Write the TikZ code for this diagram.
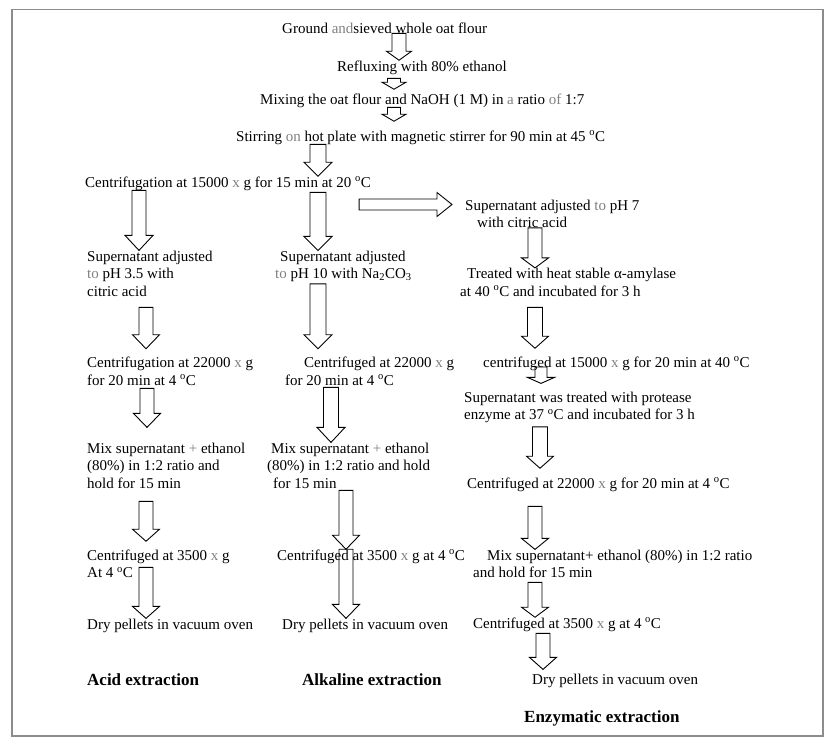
\documentclass[tikz,border=0pt]{standalone}
\usepackage{fontspec}
\setmainfont{Liberation Serif}
\usetikzlibrary{calc}
\definecolor{wordgray}{gray}{0.5}
\definecolor{framegray}{gray}{0.55}
\newcommand{\gw}[1]{\textcolor{wordgray}{#1}}
\newcommand{\degc}{\textsuperscript{o}C}
\tikzset{
    txt/.style={anchor=base west, inner sep=0pt, align=left},
    title/.style={txt, font=\fontsize{17}{20}\selectfont\bfseries},
    arrshaft/.store in=\arrshaft, arrhead/.store in=\arrhead, arrlen/.store in=\arrlen,
    arrshaft=7pt, arrhead=13.5pt, arrlen=13pt,
    flowdown/.style={draw, line width=0.9pt, line join=miter, to path={
        let \p1=(\tikztostart), \p2=(\tikztotarget) in
        (\x1-\arrshaft,\y1) -- (\x1-\arrshaft,\y2+\arrlen) -- (\x1-\arrhead,\y2+\arrlen) -- (\x1,\y2)
        -- (\x1+\arrhead,\y2+\arrlen) -- (\x1+\arrshaft,\y2+\arrlen) -- (\x1+\arrshaft,\y1) -- cycle}},
    flowright/.style={draw, line width=0.9pt, line join=miter, to path={
        let \p1=(\tikztostart), \p2=(\tikztotarget) in
        (\x1,\y1+\arrshaft) -- (\x2-\arrlen,\y1+\arrshaft) -- (\x2-\arrlen,\y1+\arrhead) -- (\x2,\y1)
        -- (\x2-\arrlen,\y1-\arrhead) -- (\x2-\arrlen,\y1-\arrshaft) -- (\x1,\y1-\arrshaft) -- cycle}}
}
\begin{document}
\begin{tikzpicture}[x=1pt, y=-1pt, font=\fontsize{15}{17.5}\selectfont]
            \useasboundingbox (0,0) rectangle (836,748);
            \draw[framegray, line width=1.3pt] (12,9.5) rectangle (823,736);

            \node[txt] (ground)   at (282,33)  {Ground \gw{and}sieved whole oat flour};
            \node[txt] (reflux)   at (337,71)  {Refluxing with 80\% ethanol};
            \node[txt] (mixing)   at (260,104) {Mixing the oat flour and NaOH (1 M) in \gw{a} ratio \gw{of} 1:7};
            \node[txt] (stirring) at (236,141) {Stirring \gw{on} hot plate with magnetic stirrer for 90 min at 45 \degc};
            \node[txt] (cent)     at (85,187)  {Centrifugation at 15000 \gw{x} g for 15 min at 20 \degc};
            \node[txt] (ph7)      at (465,227.5) {Supernatant adjusted \gw{to} pH 7\\\hspace*{12pt}with citric acid};

            \node[txt] (acidA) at (87,296)  {Supernatant adjusted\\\gw{to} pH 3.5 with\\citric acid};
            \node[txt] (acidB) at (87,385)  {Centrifugation at 22000 \gw{x} g\\for 20 min at 4 \degc};
            \node[txt] (acidC) at (87,488)  {Mix supernatant \gw{+} ethanol\\(80\%) in 1:2 ratio and\\hold for 15 min};
            \node[txt] (acidD) at (87,577.5)  {Centrifuged at 3500 \gw{x} g\\At 4 \degc};
            \node[txt] (acidE) at (87,629)  {Dry pellets in vacuum oven};

            \node[txt] (alkA) at (275,278.5) {\hspace*{5pt}Supernatant adjusted\\\gw{to} pH 10 with Na\textsubscript{2}CO\textsubscript{3}};
            \node[txt] (alkB) at (285,385) {\hspace*{19pt}Centrifuged at 22000 \gw{x} g\\for 20 min at 4 \degc};
            \node[txt] (alkC) at (267,488) {\hspace*{4pt}Mix supernatant \gw{+} ethanol\\(80\%) in 1:2 ratio and hold\\\hspace*{6pt}for 15 min};
            \node[txt] (alkD) at (277,560) {Centrifuged at 3500 \gw{x} g at 4 \degc};
            \node[txt] (alkE) at (282,629) {Dry pellets in vacuum oven};

            \node[txt] (enzA) at (460,296) {\hspace*{7pt}Treated with heat stable α-amylase\\at 40 \degc{} and incubated for 3 h};
            \node[txt] (enzB) at (483,367) {centrifuged at 15000 \gw{x} g for 20 min at 40 \degc};
            \node[txt] (enzC) at (464,419.5) {Supernatant was treated with protease\\enzyme at 37 \degc{} and incubated for 3 h};
            \node[txt] (enzD) at (467,488) {Centrifuged at 22000 \gw{x} g for 20 min at 4 \degc};
            \node[txt] (enzE) at (473,577.5) {\hspace*{14pt}Mix supernatant+ ethanol (80\%) in 1:2 ratio\\and hold for 15 min};
            \node[txt] (enzF) at (473,628) {Centrifuged at 3500 \gw{x} g at 4 \degc};
            \node[txt] (enzG) at (532,684) {Dry pellets in vacuum oven};

            \node[title] (acidlab) at (87,685)  {Acid extraction};
            \node[title] (alklab)  at (302,685) {Alkaline extraction};
            \node[title] (enzlab)  at (524,722) {Enzymatic extraction};

            \draw[flowdown, arrshaft=7pt, arrhead=12.5pt, arrlen=9pt]
                (ground.south -| 399,0) to (reflux.north -| 399,0);
            \draw[flowdown, arrshaft=6.5pt, arrhead=12pt, arrlen=7pt]
                ([yshift=-4pt]reflux.south -| 394,0) to ([yshift=4pt]mixing.north -| 394,0);
            \draw[flowdown, arrshaft=6.5pt, arrhead=12pt, arrlen=7pt]
                (mixing.south -| 394,0) to ([yshift=9pt]stirring.north -| 394,0);
            \draw[flowdown, arrshaft=8pt, arrhead=14pt, arrlen=14pt]
                (stirring.south -| 318,0) to (cent.north -| 318,0);

            \draw[flowdown, arrlen=15pt, arrhead=14pt] (cent.south -| 139,0) to (acidA.north -| 139,0);
            \draw[flowdown, arrshaft=8pt, arrhead=14pt, arrlen=14pt]
                ([yshift=-2pt]cent.south -| 318,0) to (alkA.north -| 318,0);
            \draw[flowright, arrshaft=5.5pt, arrhead=12pt, arrlen=15pt]
                ([xshift=-12pt,yshift=-17.5pt]cent.base east) to ([xshift=-13pt]ph7.base west);
            \draw[flowdown, arrlen=10pt] (ph7.south -| 535,0) to (enzA.north -| 535,0);

            \draw[flowdown, arrlen=14pt] ([yshift=-11pt]acidA.south -| 146,0) to ([yshift=8pt]acidB.north -| 146,0);
            \draw[flowdown, arrlen=14pt] ([yshift=-3pt]acidB.south -| 147,0) to ([yshift=15pt]acidC.north -| 147,0);
            \draw[flowdown, arrlen=12pt] ([yshift=-13pt]acidC.south -| 146,0) to ([yshift=8pt]acidD.north -| 146,0);
            \draw[flowdown, arrlen=12pt] ([yshift=10.5pt]acidD.south -| 146,0) to (acidE.north -| 146,0);

            \draw[flowdown, arrshaft=8pt, arrhead=14pt, arrlen=14pt]
                ([yshift=-2pt]alkA.south -| 318,0) to ([yshift=8pt]alkB.north -| 318,0);
            \draw[flowdown, arrshaft=7.5pt, arrhead=14pt, arrlen=15pt]
                ([yshift=-2pt]alkB.south -| 331,0) to (alkC.north -| 331,0);
            \draw[flowdown, arrlen=14pt] ([yshift=-2pt]alkC.south -| 346,0) to (alkD.north -| 346,0);
            \draw[flowdown, arrlen=14pt] (alkD.north -| 346,0) to (alkE.north -| 346,0);

            \draw[flowdown, arrshaft=7.5pt, arrlen=12pt]
                ([yshift=-11pt]enzA.south -| 535,0) to ([yshift=8pt]enzB.north -| 535,0);
            \draw[flowdown, arrshaft=6pt, arrlen=6pt] (enzB.base -| 541,0) to ([yshift=8pt]enzC.north -| 541,0);
            \draw[flowdown, arrshaft=7.5pt, arrlen=12pt]
                ([yshift=-4pt]enzC.south -| 540,0) to ([yshift=9pt]enzD.north -| 540,0);
            \draw[flowdown, arrlen=11pt] ([yshift=-15pt]enzD.south -| 535,0) to (enzE.north -| 535,0);
            \draw[flowdown, arrlen=10pt] ([yshift=-4.5pt]enzE.south -| 535,0) to (enzF.north -| 535,0);
            \draw[flowdown, arrlen=12pt] ([yshift=-2pt]enzF.south -| 543,0) to ([yshift=4pt]enzG.north -| 543,0);
        \end{tikzpicture}
\end{document}
